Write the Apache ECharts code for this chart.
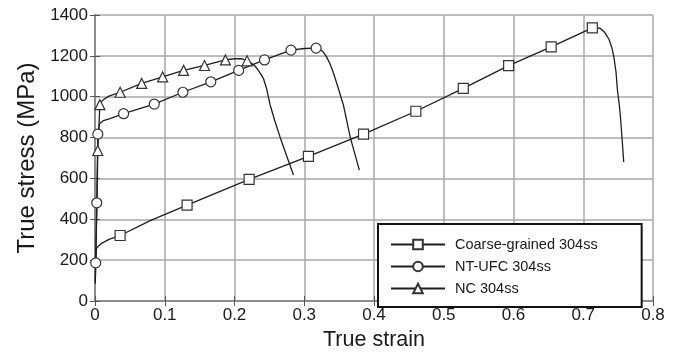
<!DOCTYPE html>
<html>
<head>
<meta charset="utf-8">
<script src="https://cdn.jsdelivr.net/npm/echarts@6/dist/echarts.min.js"></script>
<style>
html,body{margin:0;padding:0;background:#fff;}
#chart{width:678px;height:356px;}
</style>
</head>
<body>
<div id="chart"></div>
<script>
// ---- data ----
var seriesNames = ['Coarse-grained 304ss', 'NT-UFC 304ss', 'NC 304ss'];
var xTicks = [0, 0.1, 0.2, 0.3, 0.4, 0.5, 0.6, 0.7, 0.8];
var yTicks = [0, 200, 400, 600, 800, 1000, 1200, 1400];

// Coarse-grained 304ss: marker points and extra curve points
var coarseMarkers = [[0.036,321],[0.132,470],[0.221,596],[0.306,708],[0.385,817],[0.46,929],[0.528,1041],[0.593,1152],[0.654,1244],[0.713,1337]];
var coarsePath = [[0.0004,85],[0.001,190],[0.002,257],[0.005,270],[0.01,284],[0.02,302],[0.08,395],[0.719,1339],[0.725,1333],[0.731,1314],[0.737,1280],[0.741,1240],[0.744,1193],[0.747,1120],[0.749,1033],[0.752,950],[0.754,873],[0.756,780],[0.758,681]];

// NT-UFC 304ss
var ntMarkers = [[0.001,187],[0.0025,481],[0.004,817],[0.041,917],[0.085,964],[0.126,1022],[0.166,1073],[0.206,1129],[0.243,1180],[0.281,1228],[0.317,1238]];
var ntPath = [[0.0004,100],[0.0055,850],[0.007,870],[0.012,883],[0.0215,893],[0.3,1236],[0.322,1234],[0.327,1220],[0.332,1195],[0.337,1160],[0.342,1115],[0.348,1050],[0.356,961],[0.366,801],[0.379,641]];

// NC 304ss
var ncMarkers = [[0.004,737],[0.007,961],[0.036,1022],[0.067,1065],[0.097,1097],[0.127,1129],[0.157,1153],[0.187,1180],[0.218,1176]];
var ncPath = [[0.001,200],[0.003,500],[0.009,975],[0.012,985],[0.02,1003],[0.2,1186],[0.21,1186],[0.224,1165],[0.23,1148],[0.235,1125],[0.2415,1089],[0.246,1040],[0.251,961],[0.258,880],[0.2655,801],[0.2845,617]];

function build(markers, path) {
  var pts = markers.map(function (p) { return { value: p, m: true }; })
    .concat(path.map(function (p) { return { value: p, m: false }; }));
  pts.sort(function (a, b) { return a.value[0] - b.value[0]; });
  return pts.map(function (p) {
    return p.m ? { value: p.value } : { value: p.value, symbol: 'none' };
  });
}

var font = "'Liberation Sans', Arial, sans-serif";
var lineColor = '#1e1e1e';
var markColor = '#333';

function mkSeries(name, symbol, size, data) {
  return {
    name: name,
    type: 'line',
    data: data,
    smooth: false,
    symbol: symbol,
    symbolSize: size,
    showSymbol: true,
    showAllSymbol: true,
    lineStyle: { color: lineColor, width: 1.3 },
    itemStyle: { color: '#fff', borderColor: markColor, borderWidth: 1.2 },
    emphasis: { disabled: true },
    animation: false
  };
}

var chart = echarts.init(document.getElementById('chart'), null, { renderer: 'canvas' });
chart.setOption({
  backgroundColor: '#fff',
  animation: false,
  textStyle: { fontFamily: font },
  grid: { left: 95, right: 25, top: 15, bottom: 49, containLabel: false },
  legend: {
    data: seriesNames,
    orient: 'vertical',
    left: 378,
    top: 224,
    padding: [13, 44, 11, 12],
    itemGap: 7,
    itemWidth: 54,
    itemHeight: 12,
    borderColor: '#111',
    borderWidth: 2,
    borderRadius: 0,
    backgroundColor: '#fff',
    textStyle: { fontFamily: font, fontSize: 14.5, color: '#1a1a1a', padding: [0, 0, 0, 5] },
    selectedMode: false
  },
  xAxis: [{
    type: 'value',
    min: xTicks[0], max: xTicks[xTicks.length - 1], interval: 0.1,
    name: 'True strain',
    nameLocation: 'middle',
    nameGap: 24,
    nameTextStyle: { fontFamily: font, fontSize: 21.5, color: '#1a1a1a' },
    axisLine: { show: true, lineStyle: { color: '#8a8a8a', width: 1.5 } },
    axisTick: { show: true, inside: true, length: 5, lineStyle: { color: '#555', width: 1 } },
    axisLabel: { fontFamily: font, fontSize: 17, color: '#1a1a1a', margin: 6,
      formatter: function (v) { return String(+v.toFixed(1)); } },
    splitLine: { show: true, lineStyle: { color: '#a8a8a8', width: 1.5 } }
  }, {
    type: 'value', position: 'top',
    min: xTicks[0], max: xTicks[xTicks.length - 1], interval: 0.1,
    axisLine: { show: true, lineStyle: { color: '#8a8a8a', width: 1.5 } },
    axisTick: { show: true, inside: true, length: 5, lineStyle: { color: '#555', width: 1 } },
    axisLabel: { show: false },
    splitLine: { show: false }
  }],
  yAxis: [{
    type: 'value',
    min: yTicks[0], max: yTicks[yTicks.length - 1], interval: 200,
    name: 'True stress (MPa)',
    nameLocation: 'middle',
    nameGap: 52,
    nameTextStyle: { fontFamily: font, fontSize: 24, color: '#1a1a1a' },
    axisLine: { show: true, lineStyle: { color: '#8a8a8a', width: 1.5 } },
    axisTick: { show: true, inside: true, length: 5, lineStyle: { color: '#555', width: 1 } },
    axisLabel: { fontFamily: font, fontSize: 17, color: '#1a1a1a', margin: 7,
      formatter: function (v) { return String(v); } },
    splitLine: { show: true, lineStyle: { color: '#a8a8a8', width: 1.5 } }
  }, {
    type: 'value', position: 'right',
    min: yTicks[0], max: yTicks[yTicks.length - 1], interval: 200,
    axisLine: { show: true, lineStyle: { color: '#8a8a8a', width: 1.5 } },
    axisTick: { show: true, inside: true, length: 5, lineStyle: { color: '#555', width: 1 } },
    axisLabel: { show: false },
    splitLine: { show: false }
  }],
  series: [
    mkSeries(seriesNames[0], 'rect', 10, build(coarseMarkers, coarsePath)),
    mkSeries(seriesNames[1], 'circle', 10, build(ntMarkers, ntPath)),
    mkSeries(seriesNames[2], 'triangle', 10, build(ncMarkers, ncPath))
  ]
});
</script>
</body>
</html>
